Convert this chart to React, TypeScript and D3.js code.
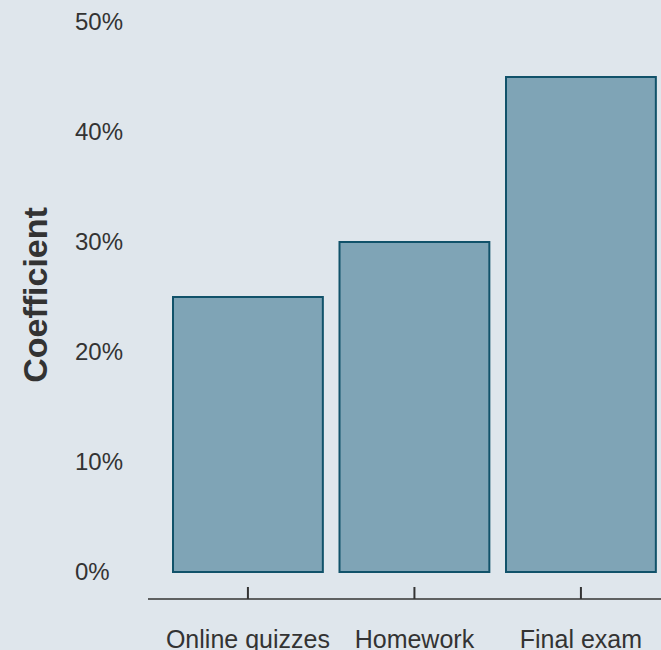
import React from "react";
import * as d3 from "d3";

const categories = ["Online quizzes", "Homework", "Final exam"];
const coefficients = [0.25, 0.30, 0.45];
const yTicks = [0, 0.1, 0.2, 0.3, 0.4, 0.5];

const W = 661;
const H = 650;

export default function App() {
  const x = d3.scaleBand<string>().domain(categories).range([156.35, 672.5]).padding(0.1);
  const y = d3.scaleLinear().domain([0, 0.5]).range([572, 22]);
  const fmt = d3.format(".0%");
  const font = "Liberation Sans, Arial, sans-serif";
  return (
    <div style={{ position: "fixed", left: 0, top: 0, width: W, height: H }}>
      <svg width={W} height={H} style={{ display: "block", background: "#dfe6ec" }}>
        <rect x={0} y={0} width={W} height={H} fill="#dfe6ec" />
        {yTicks.map((t) => (
          <text key={t} x={75} y={y(t)} dy="0.35em" fontFamily={font} fontSize={24} fill="#333333">
            {fmt(t)}
          </text>
        ))}
        <text
          transform={`translate(47,${(208 + 382) / 2}) rotate(-90)`}
          textAnchor="middle"
          fontFamily={font}
          fontWeight="bold"
          fontSize={34}
          fill="#333333"
        >
          Coefficient
        </text>
        {categories.map((c, i) => (
          <rect
            key={c}
            x={x(c)!}
            y={y(coefficients[i])}
            width={x.bandwidth()}
            height={y(0) - y(coefficients[i])}
            fill="#7fa4b6"
            stroke="#11526a"
            strokeWidth={2}
          />
        ))}
        <line x1={148} x2={W} y1={599} y2={599} stroke="#333333" strokeWidth={1.5} />
        {categories.map((c) => {
          const cx = x(c)! + x.bandwidth() / 2;
          return (
            <g key={c}>
              <line x1={cx} x2={cx} y1={587} y2={599} stroke="#333333" strokeWidth={2} />
              <text x={cx} y={648} textAnchor="middle" fontFamily={font} fontSize={25} fill="#333333">
                {c}
              </text>
            </g>
          );
        })}
      </svg>
    </div>
  );
}
